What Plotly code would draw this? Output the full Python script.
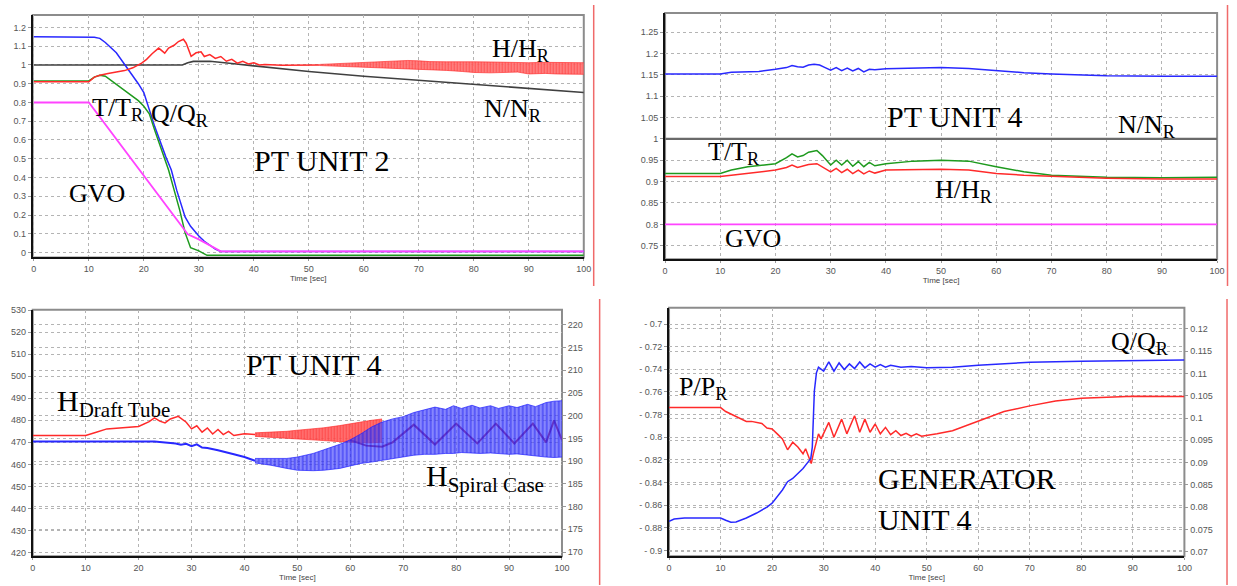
import plotly.graph_objects as go

W, H = 1237, 586

# ---------------- PT UNIT 2 (upper left) ----------------
u2_q_t = [0, 10, 11, 12, 13, 15, 17, 19, 20, 22, 24, 25, 26, 27.5, 28.5, 30, 31, 33, 34, 100]
u2_q_v = [1.15, 1.15, 1.148, 1.142, 1.12, 1.065, 0.985, 0.9, 0.853, 0.67, 0.51, 0.44, 0.33, 0.19, 0.14,
          0.088, 0.06, 0.018, 0.006, 0.006]

u2_t_t = [0, 10, 11, 12, 13, 15, 17, 19, 20, 21, 22, 23, 24.5, 25.5, 26.5, 27.5, 28.5, 30, 31.5, 100]
u2_t_v = [0.915, 0.915, 0.935, 0.945, 0.94, 0.897, 0.853, 0.81, 0.78, 0.74, 0.65, 0.563, 0.44, 0.334,
          0.229, 0.106, 0.026, 0.009, -0.015, -0.015]

u2_gvo_t = [0, 10, 28, 30, 34, 100]
u2_gvo_v = [0.8, 0.8, 0.097, 0.07, 0.006, 0.006]

u2_n_t = [0, 27, 28, 29, 32, 34, 36, 40, 50, 60, 70, 80, 90, 100]
u2_n_v = [1.0, 1.0, 1.012, 1.019, 1.02, 1.015, 1.008, 0.995, 0.965, 0.94, 0.918, 0.895, 0.873, 0.853]

u2_h_t = [0, 10, 11, 12, 13.5, 15, 16.5, 18, 19, 19.6, 20.5, 21.5, 22.7, 23.8, 24.5, 25.5, 26.3, 27.2,
          27.7, 28.6, 29.5, 30.4, 31, 32, 33, 34, 35, 36, 37, 38, 39, 40, 41, 42, 45, 48, 52]
u2_h_v = [0.91, 0.91, 0.935, 0.945, 0.955, 0.962, 0.97, 0.985, 0.998, 1.01, 1.03, 1.06, 1.09, 1.063,
          1.09, 1.105, 1.125, 1.137, 1.116, 1.046, 1.065, 1.07, 1.045, 1.055, 1.035, 1.045, 1.02, 1.03,
          1.01, 1.02, 1.005, 1.012, 1.0, 1.003, 0.998, 1.0, 1.0]
# envelope of the fast head oscillation
u2_hb_t = [52, 55, 58, 60, 62, 65, 68, 70, 72, 75, 78, 80, 83, 85, 88, 90, 93, 95, 98, 100]
u2_hb_hi = [1.003, 1.006, 1.01, 1.012, 1.016, 1.02, 1.024, 1.022, 1.018, 1.017, 1.015, 1.017, 1.016,
            1.014, 1.012, 1.012, 1.014, 1.013, 1.012, 1.012]
u2_hb_lo = [0.997, 0.994, 0.99, 0.988, 0.985, 0.982, 0.98, 0.978, 0.975, 0.971, 0.965, 0.96, 0.958,
            0.958, 0.962, 0.952, 0.955, 0.952, 0.95, 0.95]

# ---------------- PT UNIT 4 (upper right) ----------------
u4_b_t = [0, 10, 12, 15, 17, 20, 22, 23, 24, 25, 26, 27, 28, 29, 30, 31, 32, 33, 34, 35, 36, 37, 38,
          40, 45, 50, 55, 60, 65, 70, 75, 80, 90, 100]
u4_b_v = [1.152, 1.152, 1.156, 1.158, 1.158, 1.163, 1.167, 1.172, 1.169, 1.168, 1.173, 1.175, 1.173,
          1.167, 1.161, 1.167, 1.160, 1.166, 1.159, 1.165, 1.157, 1.163, 1.162, 1.164, 1.165, 1.167,
          1.165, 1.16, 1.155, 1.152, 1.15, 1.148, 1.147, 1.147]
u4_tt_t = [0, 10, 12, 15, 18, 20, 22, 23, 24, 25, 26, 27.5, 28.5, 30, 31, 32, 33, 34, 35, 36, 37, 38,
           40, 45, 50, 55, 60, 65, 70, 75, 80, 90, 100]
u4_tt_v = [0.919, 0.919, 0.927, 0.935, 0.939, 0.942, 0.956, 0.965, 0.958, 0.961, 0.969, 0.973, 0.961,
           0.939, 0.95, 0.939, 0.95, 0.936, 0.947, 0.935, 0.945, 0.937, 0.942, 0.948, 0.95, 0.948,
           0.935, 0.923, 0.915, 0.912, 0.91, 0.909, 0.91]
u4_hh_t = u4_tt_t
u4_hh_v = [0.912, 0.912, 0.915, 0.919, 0.923, 0.927, 0.933, 0.939, 0.933, 0.936, 0.94, 0.942, 0.935,
           0.923, 0.931, 0.921, 0.929, 0.919, 0.927, 0.918, 0.925, 0.92, 0.927, 0.928, 0.929, 0.927,
           0.919, 0.915, 0.912, 0.91, 0.908, 0.906, 0.906]
u4_n_t = [0, 100]
u4_n_v = [1.0, 1.0]
u4_gvo_t = [0, 100]
u4_gvo_v = [0.8, 0.8]

# ---------------- PT UNIT 4 heads (lower left) ----------------
dt_t = [0, 10, 12, 14, 17, 20, 22, 23, 24, 25, 26, 27.5, 29, 30, 31, 32, 33, 34, 35, 36, 37, 38, 40, 42]
dt_v = [473.1, 473.1, 474.6, 476.1, 476.6, 477.2, 479.4, 481.1, 479.6, 478.8, 480.6, 481.8, 479.1,
        476.1, 477.5, 474.6, 476.5, 473.8, 475.8, 473.5, 475.0, 473.1, 473.9, 473.5]
dt_b_t = [42, 45, 48, 50, 53, 55, 58, 60, 62, 64, 66]
dt_b_hi = [474.3, 474.6, 475.0, 475.5, 476.0, 476.6, 477.6, 478.5, 479.3, 480.0, 480.6]
dt_b_lo = [472.7, 472.3, 472.0, 471.6, 471.2, 470.8, 470.3, 470.0, 469.8, 469.8, 470.0]
dt_z_t = [60, 63, 66, 68, 72, 76, 80, 84, 87.5, 91, 94.5, 97, 98.5, 100]
dt_z_v = [471, 468.5, 468, 470, 478, 469, 478.5, 469.5, 478.5, 469.5, 478.5, 470, 480, 471]

sc_t = [0, 10, 20, 23, 25, 27, 28, 29, 30, 31, 32, 33, 35, 37, 38, 40, 42]
sc_v = [194.35, 194.35, 194.35, 194.3, 194.1, 193.9, 193.6, 193.8, 193.3, 193.7, 193.0, 192.9, 192.4,
        191.9, 191.5, 190.9, 190.1]
sc_b_t = [42, 45, 48, 50, 53, 55, 58, 60, 62, 64, 66, 68, 70, 72, 74, 76, 78, 79.5, 81, 83, 84.5,
          86.5, 88, 90, 91.5, 93.5, 95, 97, 98.5, 100]
sc_b_hi = [190.6, 190.6, 190.6, 190.9, 191.7, 192.5, 193.7, 194.7, 196.0, 197.5, 198.6, 199.3, 199.8,
           200.7, 201.3, 201.9, 201.4, 202.2, 201.6, 202.3, 201.7, 202.2, 201.6, 202.2, 201.8, 202.5,
           202.0, 202.9, 203.2, 203.3]
sc_b_lo = [189.6, 189.1, 188.4, 188.0, 187.9, 188.0, 188.4, 189.0, 189.5, 189.8, 190.2, 190.6, 190.9,
           191.3, 191.5, 191.5, 191.7, 191.7, 191.9, 191.7, 191.7, 191.8, 191.7, 191.5, 191.6, 191.3,
           191.2, 190.9, 190.8, 190.9]

# ---------------- GENERATOR UNIT 4 (lower right) ----------------
p_t = [0, 10, 11, 12, 13, 14, 15, 16, 17, 18, 19, 20, 21, 22, 23, 24, 25, 26, 26.5, 27.3, 27.6, 28,
       28.5, 29, 29.5, 31, 32, 33.5, 34.5, 36, 37, 38, 39, 40, 41, 42, 43, 44, 45, 46, 47, 48, 49, 50,
       52, 55, 60, 65, 70, 75, 80, 85, 90, 100]
p_v = [-0.7738, -0.7738, -0.7773, -0.7796, -0.782, -0.784, -0.786, -0.786, -0.787, -0.7878, -0.7918,
       -0.7927, -0.797, -0.8015, -0.8111, -0.8044, -0.8087, -0.8146, -0.8102, -0.8204, -0.8233,
       -0.8146, -0.8058, -0.797, -0.8015, -0.7869, -0.8, -0.784, -0.797, -0.781, -0.7956, -0.784,
       -0.7956, -0.7883, -0.797, -0.7913, -0.7977, -0.7942, -0.7985, -0.7965, -0.7991, -0.797,
       -0.7991, -0.7985, -0.797, -0.7942, -0.7854, -0.7773, -0.7723, -0.7679, -0.7656, -0.7644,
       -0.7638, -0.7641]
q_t = [0, 1, 3, 10, 11, 12, 13, 15, 17, 19, 20, 21, 22, 23, 24, 25, 26, 27, 27.5, 27.8, 28.2, 28.6,
       29, 30, 31, 32, 33, 34, 35, 36, 37, 38, 39, 40, 41, 42, 43, 45, 47, 50, 55, 60, 65, 70, 80, 90,
       100]
q_v = [0.07681, 0.07733, 0.07756, 0.07756, 0.07704, 0.07659, 0.07667, 0.07756, 0.07867, 0.08,
       0.08089, 0.08237, 0.08385, 0.0857, 0.08644, 0.08756, 0.08867, 0.09015, 0.09089, 0.09348,
       0.10607, 0.11015, 0.11141, 0.11052, 0.11259, 0.11052, 0.11237, 0.11089, 0.11215, 0.11111,
       0.11259, 0.11126, 0.11215, 0.11141, 0.112, 0.11141, 0.11185, 0.11141, 0.11156, 0.11126,
       0.11141, 0.11185, 0.11215, 0.11252, 0.11274, 0.11296, 0.11304]

time_ticks = list(range(0, 101, 10))

BLUE = "#2828ff"
RED = "#ff2a2a"
GREEN = "#1e9a1e"
MAGENTA = "#ff44ff"
DARK = "#404040"

fig = go.Figure()


def line(t, v, color, xa, ya, width=1.5, opacity=1.0):
    fig.add_trace(go.Scatter(x=t, y=v, mode="lines", xaxis=xa, yaxis=ya, opacity=opacity,
                             line=dict(color=color, width=width), hoverinfo="skip", showlegend=False))


def band(t, lo, hi, edge, fill, stripe, xa, ya, size=3, solidity=0.5):
    """Fast oscillation drawn as its envelope, hatched with thin vertical strokes."""
    fig.add_trace(go.Scatter(x=t, y=lo, mode="lines", xaxis=xa, yaxis=ya,
                             line=dict(color=edge, width=0.8), hoverinfo="skip", showlegend=False))
    fig.add_trace(go.Scatter(x=t, y=hi, mode="lines", xaxis=xa, yaxis=ya, fill="tonexty",
                             fillcolor=fill,
                             fillpattern=dict(shape="|", fgcolor=stripe, bgcolor=fill, size=size,
                                              solidity=solidity),
                             line=dict(color=edge, width=0.8),
                             hoverinfo="skip", showlegend=False))


# upper left
line(u2_n_t, u2_n_v, DARK, "x", "y", 1.6)
line(u2_q_t, u2_q_v, BLUE, "x", "y")
line(u2_t_t, u2_t_v, GREEN, "x", "y")
line(u2_gvo_t, u2_gvo_v, MAGENTA, "x", "y", 1.8)
line(u2_h_t, u2_h_v, RED, "x", "y")
band(u2_hb_t, u2_hb_lo, u2_hb_hi, "rgba(255,40,40,0.8)", "rgba(255,140,140,0.9)",
     "rgba(255,20,20,1)", "x", "y", 3, 0.6)

# upper right
line(u4_n_t, u4_n_v, "#6a6a6a", "x2", "y2", 2.2)
line(u4_gvo_t, u4_gvo_v, MAGENTA, "x2", "y2", 1.8)
line(u4_b_t, u4_b_v, BLUE, "x2", "y2")
line(u4_tt_t, u4_tt_v, GREEN, "x2", "y2")
line(u4_hh_t, u4_hh_v, RED, "x2", "y2")

# lower left: draft tube head (left axis), spiral case head (right axis)
line(dt_t, dt_v, RED, "x3", "y3")
band(dt_b_t, dt_b_lo, dt_b_hi, "rgba(255,40,40,0.8)", "rgba(255,110,110,0.85)",
     "rgba(255,20,20,1)", "x3", "y3", 3, 0.6)
line(dt_z_t, dt_z_v, "#a01050", "x3", "y3", 2)
line(sc_t, sc_v, BLUE, "x3", "y4", 2)
band(sc_b_t, sc_b_lo, sc_b_hi, "rgba(30,30,255,0.85)", "rgba(90,90,255,0.62)",
     "rgba(10,10,240,0.9)", "x3", "y4", 4, 0.65)

# lower right: active power (left axis), reactive power (right axis)
line(p_t, p_v, RED, "x4", "y5")
line(q_t, q_v, BLUE, "x4", "y6")

TICKFONT = dict(family="Liberation Sans", size=9, color="#555")
GRID = dict(showgrid=True, gridcolor="#b4b4b4", griddash="dot", gridwidth=1, zeroline=False)


def px_x(a, b):
    return [a / W, b / W]


def px_y(top, bottom):
    return [1 - bottom / H, 1 - top / H]


def xaxis(dom, anchor, rng=(0, 100)):
    return dict(domain=dom, anchor=anchor, range=list(rng), tickvals=time_ticks, **GRID,
                showline=True, linecolor="#111", linewidth=2, ticks="outside", ticklen=2,
                tickcolor="#999", tickfont=TICKFONT,
                title=dict(text="Time [sec]", font=dict(family="Liberation Sans", size=8, color="#444"),
                           standoff=1))


def yaxis(dom, anchor, rng, vals, text=None, side="left", overlay=None, line=True):
    d = dict(domain=dom, anchor=anchor, range=list(rng), tickvals=vals, **GRID, side=side,
             showline=line, linecolor="#111", linewidth=2, ticks="outside", ticklen=3,
             tickcolor="#999", tickfont=TICKFONT)
    if text is not None:
        d["ticktext"] = text
    if overlay:
        d["overlaying"] = overlay
    return d


tl_x, tl_y = px_x(30, 586), px_y(10, 255)
tr_x, tr_y = px_x(668, 1225), px_y(8, 257)
bl_x, bl_y = px_x(30, 564), px_y(308, 557)
br_x, br_y = px_x(672, 1192), px_y(306, 557)

u2_ticks = [round(0.1 * i, 1) for i in range(13)]
u4_ticks = [round(0.75 + 0.05 * i, 2) for i in range(11)]
dt_ticks = list(range(420, 531, 10))
sc_ticks = list(range(170, 221, 5))
p_ticks = [round(-0.9 + 0.02 * i, 2) for i in range(11)]
p_text = ["- " + f"{abs(v):g}" for v in p_ticks]
q_ticks = [round(0.07 + 0.005 * i, 3) for i in range(11)]
q_text = [f"{v:g}" for v in q_ticks]

fig.update_layout(
    width=W, height=H, margin=dict(l=0, r=0, t=0, b=0),
    paper_bgcolor="white", plot_bgcolor="white", showlegend=False,
    xaxis=xaxis(tl_x, "y", (-0.2, 100)),
    yaxis=yaxis(tl_y, "x", (-0.026, 1.267), u2_ticks),
    xaxis2=xaxis(tr_x, "y2"),
    yaxis2=yaxis(tr_y, "x2", (0.718, 1.295), u4_ticks),
    xaxis3=xaxis(bl_x, "y3"),
    yaxis3=yaxis(bl_y, "x3", (418.3, 530.1), dt_ticks),
    yaxis4=yaxis(bl_y, "x3", (169.06, 223.3), sc_ticks, side="right", overlay="y3", line=False),
    xaxis4=xaxis(br_x, "y5"),
    yaxis5=yaxis(br_y, "x4", (-0.9052, -0.6857), p_ticks, p_text),
    yaxis6=yaxis(br_y, "x4", (0.06896, 0.12473), q_ticks, q_text, side="right", overlay="y5",
                 line=False),
)

# grey frame around each plot area
shapes = []
for xr, yr in [("x", "y"), ("x2", "y2"), ("x3", "y3"), ("x4", "y5")]:
    shapes.append(dict(type="rect", xref=f"{xr} domain", yref=f"{yr} domain", x0=0, x1=1, y0=0, y1=1,
                       line=dict(color="#8c8c8c", width=2), layer="below"))
# red page borders
for x, y0, y1 in [(596, 0, 284), (1235.5, 0, 284), (602, 297, 586), (1235, 297, 586)]:
    shapes.append(dict(type="line", xref="paper", yref="paper", x0=x / W, x1=x / W,
                       y0=1 - y1 / H, y1=1 - y0 / H, line=dict(color="#f06a6a", width=1.5)))
fig.update_layout(shapes=shapes)

SERIF = "Liberation Serif"


def label(text, cx, cy, size=26, anchor="center"):
    fig.add_annotation(text=text, x=cx / W, y=1 - cy / H, xref="paper", yref="paper",
                       xanchor=anchor, yanchor="middle", showarrow=False,
                       font=dict(family=SERIF, size=size, color="black"))


label("H/H<sub>R</sub>", 523, 45)
label("N/N<sub>R</sub>", 515, 106)
label("T/T<sub>R</sub>", 116, 105)
label("Q/Q<sub>R</sub>", 179, 111)
label("PT UNIT 2", 322, 157, 30)
label("GVO", 95, 190)

label("PT UNIT 4", 961, 113, 30)
label("N/N<sub>R</sub>", 1154, 122)
label("T/T<sub>R</sub>", 738, 150)
label("H/H<sub>R</sub>", 970, 188)
label("GVO", 757, 236)

label("PT UNIT 4", 314, 363, 30)
label("H<sub>Draft Tube</sub>", 52, 402, 30, "left")
label("H<sub>Spiral Case</sub>", 425, 478, 30, "left")

label("Q/Q<sub>R</sub>", 1147, 342)
label("P/P<sub>R</sub>", 707, 387)
label("GENERATOR", 881, 478, 30, "left")
label("UNIT 4", 881, 520, 30, "left")

fig.write_html("out.html")
